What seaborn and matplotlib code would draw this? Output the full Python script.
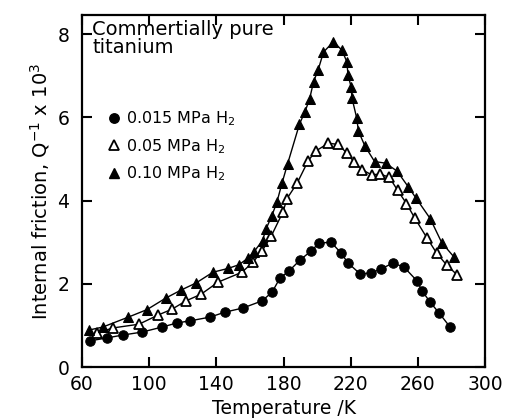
import pandas as pd
import matplotlib
matplotlib.use("Agg")
import matplotlib.pyplot as plt
from matplotlib.lines import Line2D
import seaborn as sns

# Datos: temperatura (K) y friccion interna (Q^-1 x 10^3)
temp_015 = [64.8, 74.9, 84.4, 95.7, 107.6, 116.6, 124.3, 136.2, 145.2, 155.9,
            167.2, 173.2, 177.9, 183.3, 189.8, 196.4, 201.2, 208.3, 214.3, 218.4,
            225.6, 232.1, 238.1, 245.2, 251.8, 259.5, 262.5, 267.3, 272.6, 279.2]
q_015 = [0.63, 0.70, 0.77, 0.84, 0.96, 1.06, 1.11, 1.20, 1.32, 1.42,
         1.59, 1.80, 2.14, 2.31, 2.57, 2.79, 2.98, 3.00, 2.74, 2.50,
         2.24, 2.26, 2.36, 2.50, 2.40, 2.07, 1.83, 1.56, 1.30, 0.96]

temp_05 = [68.9, 78.5, 94.0, 105.3, 113.6, 121.9, 130.9, 141.0, 155.3, 161.8,
           167.2, 172.6, 179.7, 182.1, 188.1, 194.6, 199.1, 206.7, 212.7, 217.7,
           221.8, 226.9, 232.5, 237.5, 243.0, 247.9, 253.2, 258.0, 265.3, 271.3,
           277.2, 283.5]
q_05 = [0.82, 0.94, 1.03, 1.25, 1.39, 1.59, 1.75, 2.04, 2.28, 2.52,
        2.79, 3.14, 3.73, 4.05, 4.42, 4.95, 5.19, 5.38, 5.35, 5.14,
        4.94, 4.74, 4.62, 4.64, 4.56, 4.25, 3.93, 3.59, 3.11, 2.73,
        2.45, 2.21]

temp_10 = [64.2, 72.3, 87.6, 98.7, 110.0, 119.0, 127.9, 138.0, 147.0, 153.5,
           158.9, 162.4, 167.5, 169.6, 173.0, 176.1, 179.1, 182.4, 189.5, 192.8,
           195.5, 197.9, 200.6, 203.8, 209.7, 214.7, 217.7, 218.4, 220.2, 220.8,
           223.6, 224.6, 228.5, 234.2, 240.8, 247.6, 254.3, 258.9, 267.3, 274.2,
           281.6]
q_10 = [0.89, 0.96, 1.20, 1.38, 1.66, 1.85, 2.02, 2.28, 2.37, 2.46,
        2.62, 2.77, 3.04, 3.32, 3.63, 3.97, 4.42, 4.88, 5.84, 6.14,
        6.44, 6.86, 7.14, 7.57, 7.82, 7.62, 7.34, 7.02, 6.74, 6.46,
        5.98, 5.67, 5.31, 4.94, 4.90, 4.71, 4.33, 4.06, 3.57, 2.99,
        2.64]

labels = ["0.015 MPa H$_2$", "0.05 MPa H$_2$", "0.10 MPa H$_2$"]
x_ticks = [60, 100, 140, 180, 220, 260, 300]
y_ticks = [0, 2, 4, 6, 8]

sns.set_theme(style="ticks")
plt.rcParams['font.family'] = ['DejaVu Sans']
plt.rcParams['mathtext.default'] = 'regular'
plt.rcParams['text.color'] = 'black'
plt.rcParams['axes.labelcolor'] = 'black'
plt.rcParams['xtick.color'] = 'black'
plt.rcParams['ytick.color'] = 'black'

fig = plt.figure(figsize=(5.09, 4.19), dpi=100)
ax = fig.add_axes([0.161, 0.124, 0.792, 0.840])

series = [
    (temp_015, q_015, dict(marker='o', markersize=6.8, markerfacecolor='black')),
    (temp_05, q_05, dict(marker='^', markersize=6.5, markerfacecolor='white', markeredgewidth=1.3)),
    (temp_10, q_10, dict(marker='^', markersize=6.5, markerfacecolor='black')),
]
for t, q, st in series:
    df = pd.DataFrame({'T': t, 'Q': q})
    sns.lineplot(data=df, x='T', y='Q', ax=ax, color='black', linewidth=1.0,
                 sort=False, estimator=None, markeredgecolor='black', **st)

ax.set_xlim(60, 300)
ax.set_ylim(0, 8.46)
ax.set_xticks(x_ticks)
ax.set_yticks(y_ticks)
ax.tick_params(direction='in', length=7, width=1.5, top=True, right=True,
               labelsize=13.5, colors='black')
ax.tick_params(axis='x', pad=6)
ax.tick_params(axis='y', pad=9)
for s in ax.spines.values():
    s.set_linewidth(1.6)
    s.set_color('black')

ax.set_xlabel('Temperature /K', fontsize=13.5, labelpad=3)
ax.set_ylabel('Internal friction, Q$^{-1}$ x 10$^3$', fontsize=14, labelpad=4)

ax.text(0.025, 0.985, 'Commertially pure\ntitanium', transform=ax.transAxes,
        fontsize=14, va='top', ha='left', linespacing=0.92)

handles = [
    Line2D([], [], linestyle='none', marker='o', markersize=6.8, color='black'),
    Line2D([], [], linestyle='none', marker='^', markersize=6.5, markerfacecolor='white',
           markeredgecolor='black', markeredgewidth=1.3),
    Line2D([], [], linestyle='none', marker='^', markersize=6.5, color='black'),
]
ax.legend(handles, labels, loc='upper left', bbox_to_anchor=(0.045, 0.75),
          frameon=False, fontsize=11.5, handletextpad=0.2, labelspacing=0.55,
          handlelength=1.0, borderaxespad=0)

fig.savefig('out.png', dpi=100)
